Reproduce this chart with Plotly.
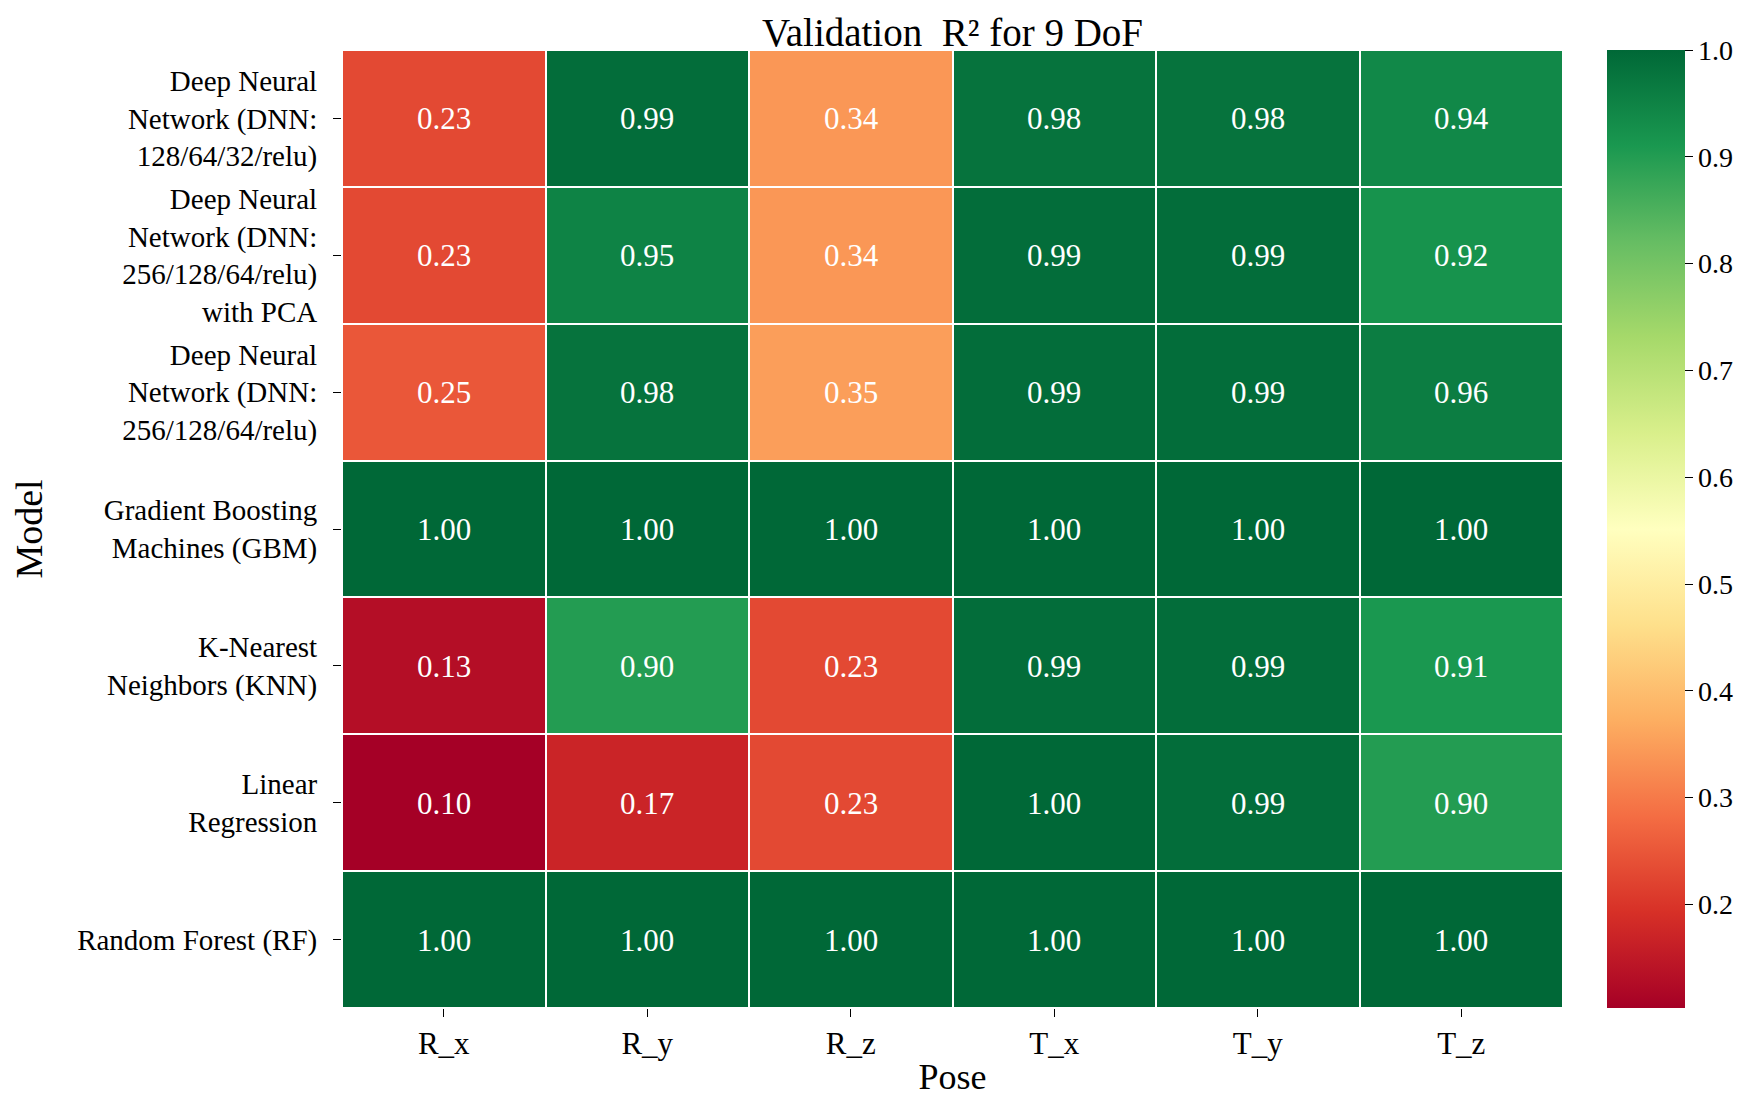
import plotly.graph_objects as go

# Datos del heatmap
poses = ["R_x", "R_y", "R_z", "T_x", "T_y", "T_z"]
models = [
    "Deep Neural<br>Network (DNN:<br>128/64/32/relu)",
    "Deep Neural<br>Network (DNN:<br>256/128/64/relu)<br>with PCA",
    "Deep Neural<br>Network (DNN:<br>256/128/64/relu)",
    "Gradient Boosting<br>Machines (GBM)",
    "K-Nearest<br>Neighbors (KNN)",
    "Linear<br>Regression",
    "Random Forest (RF)",
]
dnn_128 = [0.23, 0.99, 0.34, 0.98, 0.98, 0.94]
dnn_256_pca = [0.23, 0.95, 0.34, 0.99, 0.99, 0.92]
dnn_256 = [0.25, 0.98, 0.35, 0.99, 0.99, 0.96]
gbm = [1.00, 1.00, 1.00, 1.00, 1.00, 1.00]
knn = [0.13, 0.90, 0.23, 0.99, 0.99, 0.91]
lin_reg = [0.10, 0.17, 0.23, 1.00, 0.99, 0.90]
rf = [1.00, 1.00, 1.00, 1.00, 1.00, 1.00]
r2 = [dnn_128, dnn_256_pca, dnn_256, gbm, knn, lin_reg, rf]

FUENTE = "Liberation Serif, Times New Roman, serif"

fig = go.Figure(go.Heatmap(
    z=r2, x=poses, y=models,
    colorscale="RdYlGn", zmin=0.103, zmax=1.0,
    xgap=2, ygap=2,
    texttemplate="%{z:.2f}",
    textfont=dict(family=FUENTE, size=31, color="white"),
    colorbar=dict(
        x=1.028, xanchor="left", y=0.5, len=1.0, lenmode="fraction",
        ypad=0, thickness=78, outlinewidth=0,
        tickvals=[0.2, 0.3, 0.4, 0.5, 0.6, 0.7, 0.8, 0.9, 1.0],
        ticktext=["0.2", "0.3", "0.4", "0.5", "0.6", "0.7", "0.8", "0.9", "1.0"],
        ticks="outside", ticklen=8, tickcolor="black",
        tickfont=dict(family=FUENTE, size=28, color="black"),
    ),
))

fig.update_layout(
    width=1749, height=1099,
    margin=dict(l=334, r=194, t=42, b=99, autoexpand=False),
    plot_bgcolor="white", paper_bgcolor="white",
    font=dict(family=FUENTE, color="black"),
    title=dict(text="Validation  R² for 9 DoF", x=0.540, xanchor="center",
               y=0.99, yanchor="top", font=dict(size=39)),
)
fig.update_xaxes(
    title=dict(text="Pose", font=dict(size=36), standoff=3),
    tickfont=dict(size=31), ticks="outside", ticklen=8, tickcolor="black",
    showgrid=False, zeroline=False, automargin=False,
)
fig.update_yaxes(
    title=dict(text="Model", font=dict(size=38), standoff=42),
    tickfont=dict(size=29), ticks="outside", ticklen=8, tickcolor="black",
    ticklabelstandoff=10,
    autorange="reversed", showgrid=False, zeroline=False, automargin=False,
)

fig.write_html("out.html")
